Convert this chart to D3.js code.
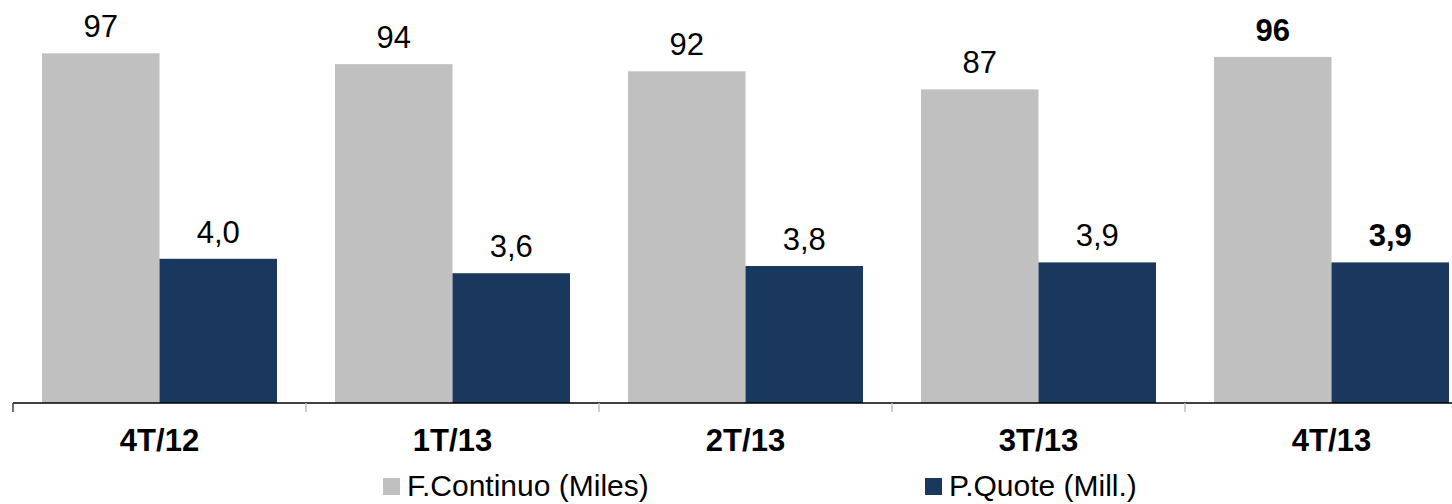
<!DOCTYPE html>
<html>
<head>
<meta charset="utf-8">
<script src="https://cdn.jsdelivr.net/npm/d3@7"></script>
<style>
  html, body { margin: 0; padding: 0; background: #fff; }
  svg { display: block; font-family: "Liberation Sans", Arial, sans-serif; }
</style>
</head>
<body>
<svg id="chart" width="1452" height="504"></svg>
<script>
// Quarterly figures: continuous market (thousands) and quote counts (millions)
const categories = ["4T/12", "1T/13", "2T/13", "3T/13", "4T/13"];
const continuoValues = [97, 94, 92, 87, 96];
const quoteValues = [4.0, 3.6, 3.8, 3.9, 3.9];
const seriesNames = ["F.Continuo (Miles)", "P.Quote (Mill.)"];
const seriesKeys = ["continuo", "quote"];
const highlightIndex = 4;

const colors = { continuo: "#C0C0C0", quote: "#1A375E" };

const svg = d3.select("#chart");
const baseline = 403;
const pxPerUnit = 3.605;

// Group scale: the plot runs past the right edge of the view
const x = d3.scaleBand().domain(categories).range([13, 1478]).paddingInner(0).paddingOuter(0);
const xInner = d3.scaleBand().domain(seriesKeys).range([0, x.bandwidth()]).paddingInner(0).paddingOuter(0.247);

// Primary axis for the continuous market, secondary axis at one tenth of it
const yPrimary = d3.scaleLinear().domain([0, 120]).range([baseline, baseline - 120 * pxPerUnit]);
const ySecondary = d3.scaleLinear().domain([0, 12]).range([baseline, baseline - 120 * pxPerUnit]);

const rows = categories.map((c, i) => ({
  cat: c, i,
  continuo: continuoValues[i],
  quote: quoteValues[i]
}));

const fmt = {
  continuo: v => d3.format("d")(v),
  quote: v => d3.format(".1f")(v).replace(".", ",")
};
const yFor = { continuo: yPrimary, quote: ySecondary };

const groups = svg.append("g").selectAll("g")
  .data(rows).join("g")
  .attr("transform", d => `translate(${x(d.cat)},0)`);

groups.selectAll("rect")
  .data(d => seriesKeys.map(k => ({ k, v: d[k], i: d.i })))
  .join("rect")
  .attr("x", d => xInner(d.k))
  .attr("width", xInner.bandwidth())
  .attr("y", d => yFor[d.k](d.v))
  .attr("height", d => baseline - yFor[d.k](d.v))
  .attr("fill", d => colors[d.k]);

groups.selectAll("text.val")
  .data(d => seriesKeys.map(k => ({ k, v: d[k], i: d.i })))
  .join("text")
  .attr("class", "val")
  .attr("x", d => xInner(d.k) + xInner.bandwidth() / 2)
  .attr("y", d => yFor[d.k](d.v) - 16)
  .attr("text-anchor", "middle")
  .attr("font-size", 31)
  .attr("font-weight", d => d.i === highlightIndex ? "bold" : "normal")
  .attr("fill", "#000")
  .text(d => fmt[d.k](d.v));

// Category axis
const axisG = svg.append("g");
axisG.append("line")
  .attr("x1", 13).attr("x2", 1452)
  .attr("y1", baseline).attr("y2", baseline)
  .attr("stroke", "#000").attr("stroke-width", 1.5);

const tickPositions = categories.map(c => x(c));
axisG.selectAll("line.tick")
  .data(tickPositions).join("line")
  .attr("class", "tick")
  .attr("x1", d => d).attr("x2", d => d)
  .attr("y1", baseline).attr("y2", baseline + 9)
  .attr("stroke", (d, i) => i === 0 ? "#404040" : "#BFBFBF")
  .attr("stroke-width", 1.5);

axisG.selectAll("text.cat")
  .data(categories).join("text")
  .attr("class", "cat")
  .attr("x", c => x(c) + x.bandwidth() / 2)
  .attr("y", 451)
  .attr("text-anchor", "middle")
  .attr("font-size", 31)
  .attr("font-weight", "bold")
  .attr("fill", "#000")
  .text(c => c);

// Legend
const legendX = [383, 925];
const legend = svg.append("g").selectAll("g")
  .data(seriesKeys).join("g")
  .attr("transform", (k, i) => `translate(${legendX[i]},0)`);
legend.append("rect")
  .attr("x", 0).attr("y", 478).attr("width", 17).attr("height", 17)
  .attr("fill", k => colors[k]);
legend.append("text")
  .attr("x", 24).attr("y", 496)
  .attr("font-size", 30)
  .attr("fill", "#000")
  .text((k, i) => seriesNames[i]);
</script>
</body>
</html>
